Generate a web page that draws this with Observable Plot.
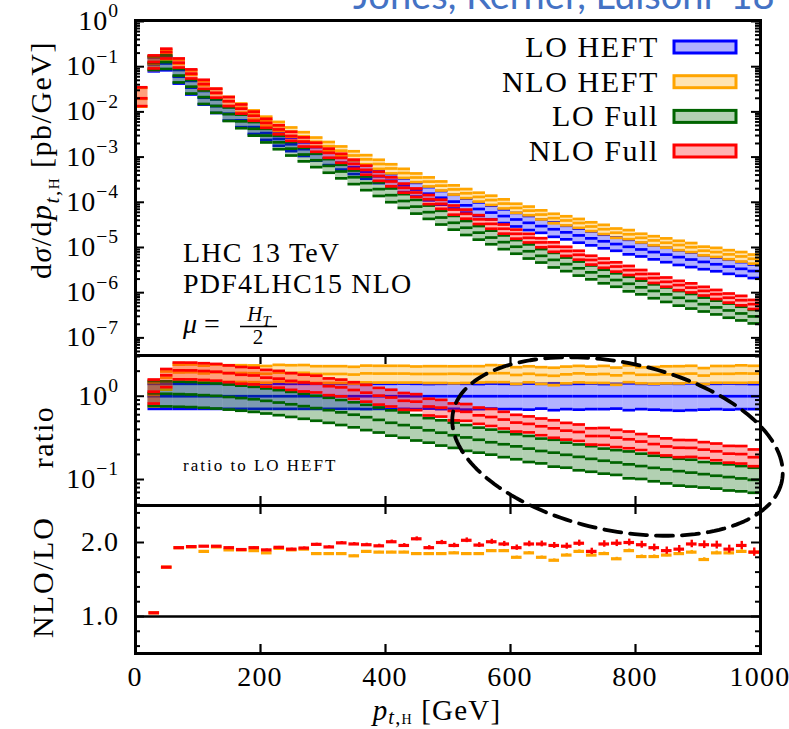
<!DOCTYPE html>
<html><head><meta charset="utf-8">
<script src="https://cdn.jsdelivr.net/npm/d3@7"></script>
<script src="https://cdn.jsdelivr.net/npm/@observablehq/plot@0.6"></script>
<style>
html,body{margin:0;padding:0;background:#fff;overflow:hidden;}
#root{position:relative;width:789px;height:729px;}
#root svg{overflow:visible;}
</style></head><body><div id="root"></div>
<script>
// ---------------- data ----------------
const binWidth = 20;
const binLow = d3.range(0, 1000, binWidth);           // 0,20,...,980 GeV
const seriesNames  = ["LO HEFT", "NLO HEFT", "LO Full", "NLO Full"];
const seriesStroke = ["#0000ff", "#ffa500", "#006400", "#ff0000"];
const seriesFill   = ["rgba(0,0,255,0.3)", "rgba(255,165,0,0.3)", "rgba(0,100,0,0.3)", "rgba(255,0,0,0.3)"];
const legendFill   = ["#b2b2ff", "#ffe4b2", "#b2d0b2", "#ffb2b2"];

// LO HEFT central value, dsigma/dpT [pb/GeV] (no LO below the 30 GeV jet cut)
const loHeft = [null, 0.112, 0.118, 0.060, 0.0344, 0.0206, 0.0134, 0.0091, 0.0065, 0.0046,
  0.0034, 0.00252, 0.00192, 0.00150, 0.00118, 0.00094, 0.00075, 5.96e-4, 4.73e-4, 3.76e-4,
  2.99e-4, 2.37e-4, 1.91e-4, 1.55e-4, 1.26e-4, 1.035e-4, 8.55e-5, 7.10e-5, 5.92e-5, 4.95e-5,
  4.16e-5, 3.51e-5, 2.97e-5, 2.53e-5, 2.16e-5, 1.85e-5, 1.59e-5, 1.37e-5, 1.19e-5, 1.035e-5,
  9.04e-6, 7.91e-6, 6.95e-6, 6.12e-6, 5.41e-6, 4.79e-6, 4.25e-6, 3.78e-6, 3.37e-6, 3.01e-6];
// NLO values in the first bin (0-20 GeV): [NLO HEFT, NLO Full]
const firstBinNLO = [0.0195, 0.0200];
// LO Full / LO HEFT (central)
const rFull = [null, 1.08, 1.07, 1.06, 1.05, 1.03, 1.01, 0.98, 0.95, 0.92,
  0.88, 0.84, 0.80, 0.76, 0.72, 0.68, 0.64, 0.60, 0.56, 0.52,
  0.48, 0.45, 0.42, 0.39, 0.365, 0.34, 0.32, 0.30, 0.28, 0.265,
  0.25, 0.235, 0.22, 0.21, 0.198, 0.187, 0.177, 0.168, 0.16, 0.152,
  0.145, 0.138, 0.132, 0.126, 0.121, 0.116, 0.111, 0.107, 0.103, 0.099];
// NLO/LO K-factors
const kHeft = [null, 1.05, 1.667, 1.93, 1.94, 1.88, 1.94, 1.90, 1.90, 1.89,
  1.86, 1.92, 1.90, 1.91, 1.85, 1.85, 1.85, 1.82, 1.88, 1.87,
  1.87, 1.87, 1.85, 1.85, 1.85, 1.86, 1.85, 1.85, 1.89, 1.89,
  1.80, 1.86, 1.80, 1.76, 1.83, 1.88, 1.83, 1.85, 1.78, 1.89,
  1.81, 1.81, 1.83, 1.85, 1.87, 1.77, 1.86, 1.86, 1.88, 1.87];
const kFull = [null, 1.05, 1.667, 1.93, 1.945, 1.95, 1.95, 1.93, 1.905, 1.93,
  1.90, 1.935, 1.91, 1.925, 1.975, 1.94, 1.995, 1.98, 1.97, 1.955,
  2.01, 1.96, 2.05, 1.93, 2.00, 1.96, 2.03, 1.965, 2.01, 1.98,
  1.93, 1.98, 1.98, 1.96, 1.95, 1.99, 1.88, 1.98, 1.99, 2.00,
  1.97, 1.93, 1.89, 1.91, 1.98, 1.97, 1.965, 1.91, 1.96, 1.87];
// statistical errors of the K-factors
const errHeft = [null, 0.004, 0.004, 0.004, 0.004, 0.005, 0.005, 0.005, 0.006, 0.006,
  0.006, 0.007, 0.007, 0.008, 0.008, 0.009, 0.009, 0.010, 0.010, 0.011,
  0.011, 0.012, 0.012, 0.013, 0.013, 0.014, 0.014, 0.015, 0.015, 0.016,
  0.016, 0.017, 0.017, 0.018, 0.018, 0.019, 0.019, 0.020, 0.020, 0.021,
  0.021, 0.022, 0.022, 0.023, 0.023, 0.024, 0.024, 0.025, 0.025, 0.026];
const errFull = [null, 0.004, 0.005, 0.005, 0.006, 0.006, 0.007, 0.008, 0.009, 0.010,
  0.011, 0.012, 0.013, 0.014, 0.015, 0.016, 0.018, 0.019, 0.020, 0.022,
  0.023, 0.025, 0.026, 0.028, 0.029, 0.030, 0.032, 0.033, 0.034, 0.035,
  0.036, 0.038, 0.039, 0.040, 0.041, 0.042, 0.043, 0.044, 0.045, 0.046,
  0.047, 0.048, 0.049, 0.050, 0.051, 0.052, 0.053, 0.054, 0.055, 0.056];
// scale-variation band edges relative to the central value
const loUp = [null, 1.41, 1.41, 1.41, 1.41, 1.41, 1.41, 1.41, 1.41, 1.41,
  1.41, 1.41, 1.41, 1.41, 1.41, 1.41, 1.41, 1.41, 1.41, 1.41,
  1.41, 1.42, 1.41, 1.40, 1.41, 1.42, 1.41, 1.40, 1.42, 1.41,
  1.40, 1.42, 1.41, 1.43, 1.40, 1.41, 1.42, 1.40, 1.41, 1.43,
  1.41, 1.40, 1.42, 1.41, 1.43, 1.40, 1.41, 1.42, 1.41, 1.40];
const loDown = [null, 0.705, 0.705, 0.705, 0.705, 0.705, 0.705, 0.705, 0.705, 0.705,
  0.705, 0.705, 0.705, 0.705, 0.705, 0.705, 0.705, 0.705, 0.70, 0.705,
  0.70, 0.705, 0.70, 0.71, 0.70, 0.705, 0.69, 0.70, 0.71, 0.70,
  0.70, 0.69, 0.71, 0.68, 0.70, 0.69, 0.70, 0.70, 0.71, 0.68,
  0.70, 0.69, 0.68, 0.67, 0.68, 0.69, 0.70, 0.69, 0.70, 0.70];
const nloUp = [1.75, 1.40, 1.19, 1.24, 1.24, 1.24, 1.24, 1.24, 1.24, 1.24,
  1.24, 1.24, 1.24, 1.24, 1.24, 1.24, 1.24, 1.24, 1.24, 1.24,
  1.24, 1.24, 1.23, 1.24, 1.24, 1.23, 1.24, 1.24, 1.25, 1.24,
  1.24, 1.23, 1.24, 1.25, 1.24, 1.23, 1.24, 1.25, 1.24, 1.24,
  1.23, 1.24, 1.25, 1.24, 1.24, 1.23, 1.24, 1.24, 1.25, 1.24];
const nloDown = [0.67, 0.72, 0.72, 0.78, 0.78, 0.78, 0.78, 0.78, 0.78, 0.78,
  0.78, 0.78, 0.78, 0.78, 0.78, 0.78, 0.78, 0.78, 0.78, 0.78,
  0.78, 0.78, 0.79, 0.78, 0.78, 0.77, 0.78, 0.79, 0.78, 0.78,
  0.78, 0.79, 0.78, 0.77, 0.78, 0.78, 0.79, 0.78, 0.77, 0.78,
  0.79, 0.78, 0.78, 0.77, 0.78, 0.79, 0.78, 0.78, 0.77, 0.78];

// ticks and tick labels
const xTickValues = [0, 200, 400, 600, 800, 1000];
const xTickLabels = ["0", "200", "400", "600", "800", "1000"];
const topTickValues = [1, 1e-1, 1e-2, 1e-3, 1e-4, 1e-5, 1e-6, 1e-7];
const topTickExps = ["0", "\u22121", "\u22122", "\u22123", "\u22124", "\u22125", "\u22126", "\u22127"];
const midTickValues = [1, 1e-1];
const midTickExps = ["0", "\u22121"];
const botTickValues = [2.0, 1.0];
const botTickLabels = ["2.0", "1.0"];
const botMinorValues = [0.6, 0.8, 1.2, 1.4, 1.6, 1.8, 2.2, 2.4];

// ---------------- layout ----------------
const W = 789, H = 729;
const mLeft = 135, mRight = 29;
const frameW = W - mLeft - mRight;
const panelTop = {top: 0, mid: 355, bot: 505};
const FONT = "Liberation Serif, Times New Roman, serif";
const LINEW = 2.7;
const root = document.getElementById("root");

function minorLog(lo, hi) {
  const out = [];
  for (let e = Math.floor(Math.log10(lo)) - 1; e <= Math.ceil(Math.log10(hi)); e++)
    for (let m = 2; m <= 9; m++) { const v = m * 10 ** e; if (v > lo && v < hi) out.push(v); }
  return out;
}
function yTicks(values, len) {
  return [
    Plot.tickY(values, {y: d => d, insetRight: frameW - len, stroke: "black", strokeWidth: 2}),
    Plot.tickY(values, {y: d => d, insetLeft: frameW - len, stroke: "black", strokeWidth: 2})
  ];
}
function xTicks(panelH, top, bottom) {
  const m = [];
  if (top) m.push(Plot.tickX(xTickValues, {x: d => d, insetBottom: panelH - 9, stroke: "black", strokeWidth: 2.2}));
  if (bottom) m.push(Plot.tickX(xTickValues, {x: d => d, insetTop: panelH - 9, stroke: "black", strokeWidth: 2.2}));
  return m;
}

function bandRows(normalise) {
  const rows = [];
  for (let i = 0; i < binLow.length; i++) {
    const x1 = binLow[i], x2 = binLow[i] + binWidth;
    if (loHeft[i] == null) {
      if (normalise) continue;
      firstBinNLO.forEach((v, k) => rows.push({s: k === 0 ? 1 : 3, x1, x2, mid: v, lo: v * nloDown[i], hi: v * nloUp[i]}));
      continue;
    }
    const scale = normalise ? 1 : loHeft[i];
    const mids = [1, kHeft[i], rFull[i], rFull[i] * kFull[i]];
    mids.forEach((m, s) => {
      const up = s % 2 === 0 ? loUp[i] : nloUp[i];
      const dn = s % 2 === 0 ? loDown[i] : nloDown[i];
      rows.push({s, x1, x2, mid: m * scale, lo: m * dn * scale, hi: m * up * scale});
    });
  }
  return rows;
}
function bandMarks(rows) {
  const marks = [];
  for (let s = 0; s < 4; s++) {
    const r = rows.filter(d => d.s === s);
    marks.push(Plot.rect(r, {x1: "x1", x2: "x2", y1: "lo", y2: "hi", fill: seriesFill[s]}));
    for (const k of ["lo", "mid", "hi"])
      marks.push(Plot.ruleY(r, {y: k, x1: "x1", x2: "x2", stroke: seriesStroke[s], strokeWidth: LINEW}));
  }
  return marks;
}
function place(node, top) {
  node.style.position = "absolute"; node.style.left = "0px"; node.style.top = top + "px";
  root.appendChild(node);
}
const common = {width: W, marginLeft: mLeft, marginRight: mRight, x: {domain: [0, 1000], axis: null},
  style: {background: "transparent", overflow: "visible", fontFamily: FONT}};

// top panel
const topDomain = [10 ** -7.39, 10 ** 0.022];
const topPlot = Plot.plot({...common, height: 355, marginTop: 20, marginBottom: 0,
  y: {type: "log", domain: topDomain, axis: null},
  marks: [
    ...bandMarks(bandRows(false)),
    ...yTicks(topTickValues, 9), ...yTicks(minorLog(...topDomain), 5),
    Plot.frame({stroke: "black", strokeWidth: 3})
  ]});
// ratio panel
const midDomain = [10 ** -1.312, 10 ** 0.489];
const midPlot = Plot.plot({...common, height: 150, marginTop: 0, marginBottom: 0,
  y: {type: "log", domain: midDomain, axis: null},
  marks: [
    ...bandMarks(bandRows(true)),
    ...yTicks(midTickValues, 9), ...yTicks(minorLog(...midDomain), 5),
    ...xTicks(150, true, true),
    Plot.frame({stroke: "black", strokeWidth: 3})
  ]});
// NLO/LO panel
const kRows = [];
for (let i = 1; i < binLow.length; i++) {
  kRows.push({s: 1, x1: binLow[i], x2: binLow[i] + binWidth, xc: binLow[i] + binWidth / 2, v: kHeft[i], e: errHeft[i]});
}
for (let i = 1; i < binLow.length; i++) {
  kRows.push({s: 3, x1: binLow[i], x2: binLow[i] + binWidth, xc: binLow[i] + binWidth / 2, v: kFull[i], e: errFull[i]});
}
const botPlot = Plot.plot({...common, height: 224, marginTop: 0, marginBottom: 76,
  y: {domain: [0.5, 2.5], axis: null},
  marks: [
    Plot.ruleY([1.0], {stroke: "black", strokeWidth: 2.5}),
    ...[1, 3].flatMap(s => {
      const r = kRows.filter(d => d.s === s);
      return [
        Plot.ruleY(r, {y: "v", x1: d => d.x1 + 1.5, x2: d => d.x2 - 1.5, stroke: seriesStroke[s], strokeWidth: 3.2}),
        Plot.ruleX(r, {x: "xc", y1: d => d.v - d.e, y2: d => d.v + d.e, stroke: seriesStroke[s], strokeWidth: 2.4})
      ];
    }),
    ...yTicks(botTickValues, 9), ...yTicks(botMinorValues, 5),
    ...xTicks(148, true, true),
    Plot.frame({stroke: "black", strokeWidth: 3})
  ]});

place(botPlot, panelTop.bot);
place(midPlot, panelTop.mid);
place(topPlot, panelTop.top);

// dashed ellipse annotation (pixel space, identity scales)
const ellipse = {cx: 617, cy: 446, rx: 168, ry: 84, angleDeg: 12};
const th = ellipse.angleDeg * Math.PI / 180;
const ellPts = d3.range(0, 361, 2).map(t => {
  const a = t * Math.PI / 180;
  return {x: ellipse.cx + ellipse.rx * Math.cos(a) * Math.cos(th) - ellipse.ry * Math.sin(a) * Math.sin(th),
          y: ellipse.cy + ellipse.rx * Math.cos(a) * Math.sin(th) + ellipse.ry * Math.sin(a) * Math.cos(th)};
});
const overlay = Plot.plot({width: W, height: H, margin: 0,
  x: {type: "identity", axis: null}, y: {type: "identity", axis: null},
  style: {background: "transparent", overflow: "visible"},
  marks: [Plot.line(ellPts, {x: "x", y: "y", stroke: "black", strokeWidth: 3.8, strokeDasharray: "17,9"})]});
place(overlay, 0);

// ---------------- text layer ----------------
const svg = d3.select(root).append("svg").attr("width", W).attr("height", H)
  .style("position", "absolute").style("left", "0px").style("top", "0px")
  .attr("font-family", FONT).attr("fill", "black");
const yTop = v => panelTop.top + topPlot.scale("y").apply(v);
const yMid = v => panelTop.mid + midPlot.scale("y").apply(v);
const yBot = v => panelTop.bot + botPlot.scale("y").apply(v);
const xPx = v => botPlot.scale("x").apply(v);
const TICKFS = 28;
function supLabel(x, y, base, sup) {
  const t = svg.append("text").attr("x", x).attr("y", y).attr("text-anchor", "end").attr("font-size", TICKFS)
    .attr("letter-spacing", 1);
  t.append("tspan").text(base);
  if (sup != null) t.append("tspan").attr("dy", -0.45 * TICKFS).attr("font-size", TICKFS * 0.7).text(sup);
}
topTickValues.forEach((v, i) => supLabel(mLeft - 16, yTop(v) + 9, "10", topTickExps[i]));
midTickValues.forEach((v, i) => supLabel(mLeft - 16, yMid(v) + 9, "10", midTickExps[i]));
botTickValues.forEach((v, i) => supLabel(mLeft - 16, yBot(v) + 9, botTickLabels[i], null));
xTickValues.forEach((v, i) => svg.append("text").attr("x", xPx(v)).attr("y", 686)
  .attr("text-anchor", "middle").attr("font-size", TICKFS).attr("letter-spacing", 1.2).text(xTickLabels[i]));

// axis titles
function rich(t, parts, fs) {
  for (const p of parts) {
    const ts = t.append("tspan").text(p.t);
    if (p.i) ts.attr("font-style", "italic");
    if (p.sc) ts.attr("font-variant", "small-caps");
    if (p.dy) ts.attr("dy", p.dy * fs);
    if (p.fs) ts.attr("font-size", p.fs * fs);
  }
}
const LBL = 30;
{
  const t = svg.append("text").attr("transform", "translate(51,160) rotate(-90)").attr("text-anchor", "middle")
    .attr("font-size", LBL).attr("letter-spacing", 1.5);
  rich(t, [{t: "d"}, {t: "\u03c3", i: 1}, {t: "/d"}, {t: "p", i: 1}, {t: "t", i: 1, dy: 0.25, fs: 0.7}, {t: ",h", sc: 1, fs: 0.7},
           {t: " [pb/GeV]", dy: -0.25}], LBL);
}
svg.append("text").attr("transform", "translate(53,437) rotate(-90)").attr("text-anchor", "middle")
  .attr("font-size", LBL).attr("letter-spacing", 1.5).text("ratio");
svg.append("text").attr("transform", "translate(53,577) rotate(-90)").attr("text-anchor", "middle")
  .attr("font-size", LBL).attr("letter-spacing", 2).text("NLO/LO");
{
  const fs = 29;
  const t = svg.append("text").attr("x", 437).attr("y", 720).attr("text-anchor", "middle")
    .attr("font-size", fs).attr("letter-spacing", 1.2);
  rich(t, [{t: "p", i: 1}, {t: "t", i: 1, dy: 0.14, fs: 0.7}, {t: ",h", sc: 1, fs: 0.7}, {t: " [GeV]", dy: -0.14}], fs);
}

// legend
const legendRowY = [47, 81.7, 116.4, 151];
seriesNames.forEach((name, s) => {
  const cy = legendRowY[s];
  svg.append("text").attr("x", 659).attr("y", cy + 10).attr("text-anchor", "end").attr("font-size", LBL)
    .attr("letter-spacing", 1.6).text(name);
  svg.append("rect").attr("x", 674).attr("y", cy - 6).attr("width", 62).attr("height", 12)
    .attr("fill", legendFill[s]).attr("stroke", seriesStroke[s]).attr("stroke-width", 3);
});

// annotations
svg.append("text").attr("x", 183).attr("y", 262).attr("font-size", 28).attr("letter-spacing", 1.2).text("LHC 13 TeV");
svg.append("text").attr("x", 183).attr("y", 293).attr("font-size", 28).attr("letter-spacing", 1.2).text("PDF4LHC15 NLO");
{
  const t = svg.append("text").attr("x", 183).attr("y", 333).attr("font-size", 28);
  rich(t, [{t: "\u03bc", i: 1}, {t: " = "}], 28);
  const f = svg.append("text").attr("x", 259).attr("y", 321).attr("font-size", 21).attr("text-anchor", "middle");
  rich(f, [{t: "H", i: 1}, {t: "T", i: 1, dy: 0.25, fs: 0.7}], 21);
  svg.append("line").attr("x1", 240).attr("x2", 277).attr("y1", 326.5).attr("y2", 326.5).attr("stroke", "black").attr("stroke-width", 1.3);
  svg.append("text").attr("x", 258).attr("y", 344).attr("font-size", 21).attr("text-anchor", "middle").text("2");
}
svg.append("text").attr("x", 183).attr("y", 471).attr("font-size", 17).attr("letter-spacing", 2).text("ratio to LO HEFT");

// slide caption at the very top (clipped by the page edge, as in the reference)
svg.append("text").attr("x", 353).attr("y", 9).attr("font-family", "Lato, Open Sans, sans-serif")
  .attr("font-size", 38).attr("fill", "#4472c4").text("Jones, Kerner, Luisoni \u201918");
</script></body></html>
